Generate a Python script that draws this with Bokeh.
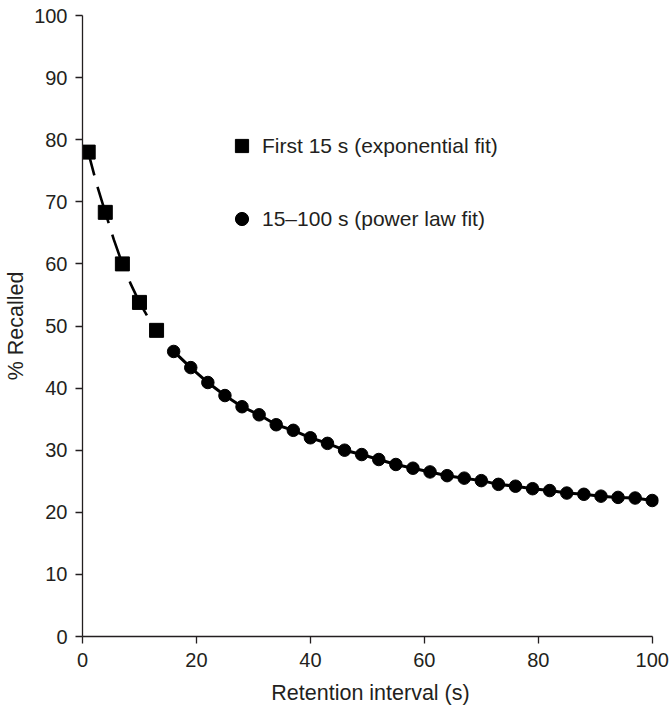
from bokeh.plotting import figure
from bokeh.models import Range1d, Legend, LegendItem, FixedTicker
from bokeh.embed import file_html
from bokeh.resources import INLINE

# ---- data ----
exp_t = [1, 4, 7, 10, 13]
exp_recall = [78.0, 68.3, 60.0, 53.8, 49.3]

exp_fit_t = [1, 2.5, 4, 5.5, 7, 8.5, 10, 11.5, 13]
exp_fit_recall = [78.0, 72.8, 68.3, 63.9, 60.0, 56.7, 53.8, 51.4, 49.3]

pow_t = [16, 19, 22, 25, 28, 31, 34, 37, 40, 43, 46, 49, 52, 55, 58,
         61, 64, 67, 70, 73, 76, 79, 82, 85, 88, 91, 94, 97, 100]
pow_recall = [45.9, 43.3, 40.9, 38.8, 37.0, 35.7, 34.1, 33.2, 32.0, 31.1,
              30.0, 29.3, 28.5, 27.7, 27.1, 26.5, 25.9, 25.5, 25.1, 24.5,
              24.2, 23.8, 23.5, 23.1, 22.9, 22.6, 22.4, 22.3, 21.9]

x_ticks = [0, 20, 40, 60, 80, 100]
y_ticks = [0, 10, 20, 30, 40, 50, 60, 70, 80, 90, 100]

legend_labels = ["First 15 s (exponential fit)", "15\u2013100 s (power law fit)"]

INK = "#231f20"
FONT = "Liberation Sans"

p = figure(width=669, height=711, output_backend="svg", toolbar_location=None,
           x_range=Range1d(0, 101.1), y_range=Range1d(0, 100),
           min_border_left=82, min_border_right=11, min_border_top=15,
           min_border_bottom=75)
p.outline_line_color = None
p.grid.visible = False
p.background_fill_color = "white"
p.border_fill_color = "white"

# exponential fit (dashed) + squares
p.line(exp_fit_t, exp_fit_recall, line_color="black", line_width=2.6,
       line_dash="38 12", line_dash_offset=14)
sq = p.scatter(exp_t, exp_recall, marker="square", size=14,
               fill_color="black", line_color="black")

# power law fit (solid) + circles
p.line(pow_t, pow_recall, line_color="black", line_width=3)
ci = p.scatter(pow_t, pow_recall, marker="circle", size=12.5,
               fill_color="black", line_color="black")

# axes
for ax in (p.xaxis[0], p.yaxis[0]):
    ax.axis_line_color = INK
    ax.axis_line_width = 1.3
    ax.major_tick_line_color = INK
    ax.major_tick_line_width = 1.3
    ax.major_tick_out = 7
    ax.major_tick_in = 0
    ax.minor_tick_line_color = None
    ax.major_label_text_font = FONT
    ax.major_label_text_font_size = "20px"
    ax.major_label_text_color = INK
    ax.axis_label_text_font = FONT
    ax.axis_label_text_font_size = "21.5px"
    ax.axis_label_text_font_style = "normal"
    ax.axis_label_text_color = INK

p.xaxis[0].ticker = FixedTicker(ticks=x_ticks)
p.yaxis[0].ticker = FixedTicker(ticks=y_ticks)
p.xaxis[0].bounds = (0, 100)
p.yaxis[0].bounds = (0, 100)
p.xaxis[0].axis_label = "Retention interval (s)"
p.yaxis[0].axis_label = "% Recalled"
p.xaxis[0].major_label_standoff = 9
p.yaxis[0].major_label_standoff = 8
p.xaxis[0].axis_label_standoff = 11
p.yaxis[0].axis_label_standoff = 3

legend = Legend(items=[LegendItem(label=legend_labels[0], renderers=[sq]),
                       LegendItem(label=legend_labels[1], renderers=[ci])],
                location=(143, 401), orientation="vertical",
                glyph_width=33, glyph_height=33, label_height=33,
                label_standoff=4, spacing=40, padding=0, margin=0,
                border_line_color=None, background_fill_alpha=0,
                label_text_font=FONT, label_text_font_size="21px",
                label_text_color=INK)
p.add_layout(legend, "center")

open("out.html", "w").write(file_html(p, INLINE))
